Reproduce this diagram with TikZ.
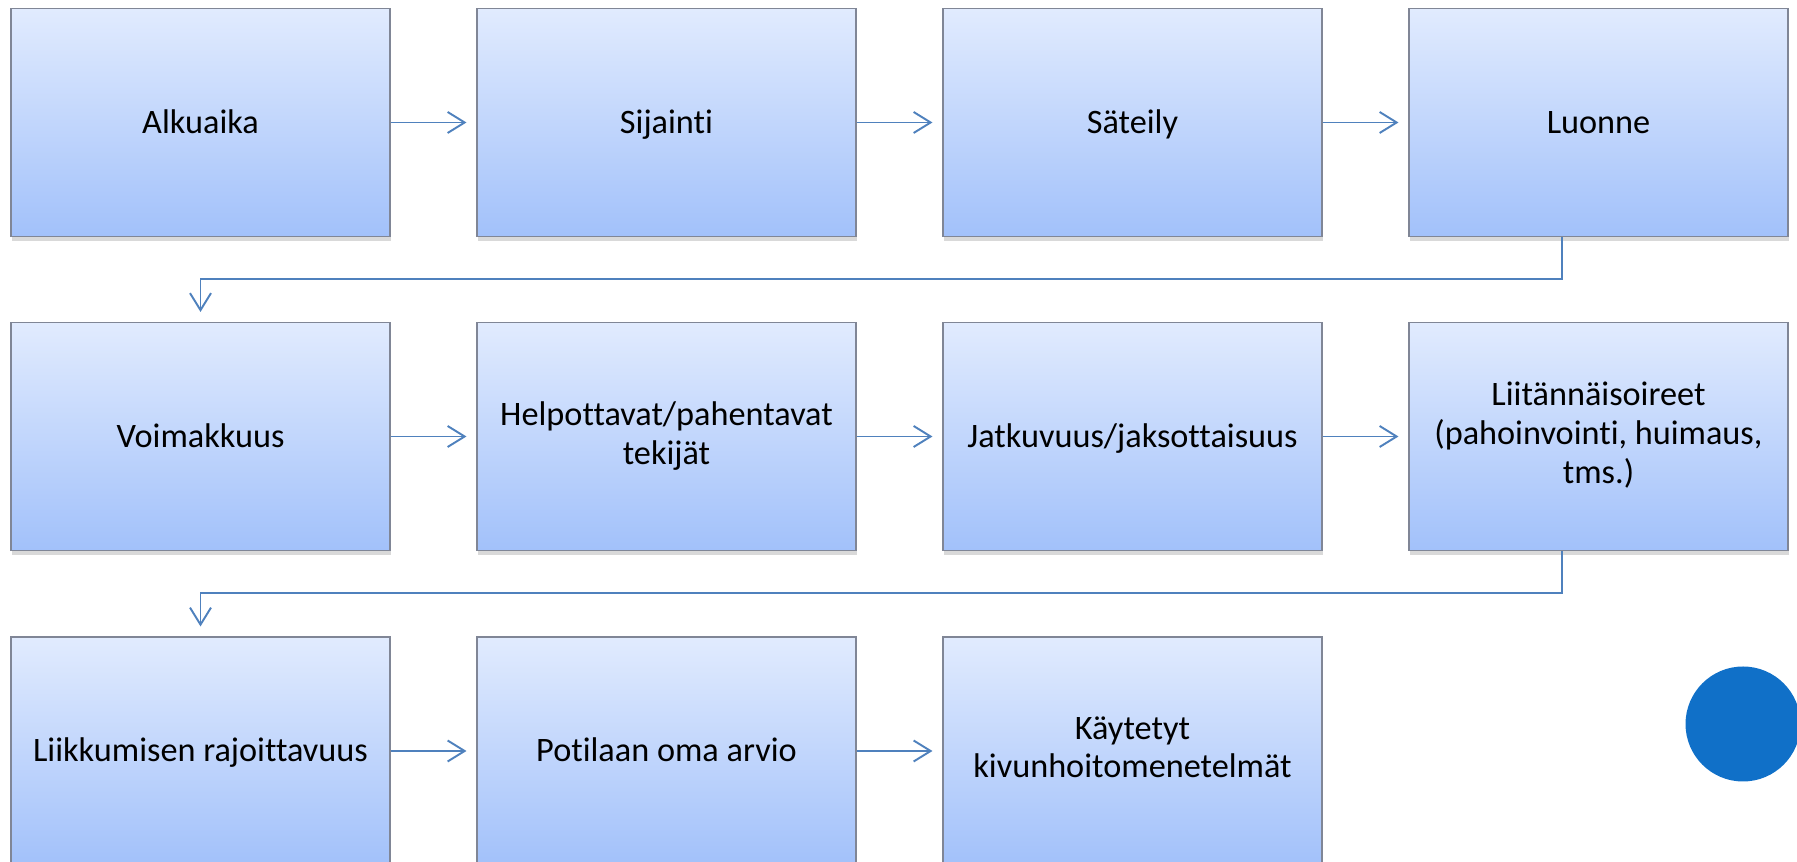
\documentclass[tikz,border=0pt]{standalone}
\usepackage{fontspec}
\setmainfont{Carlito}[Ligatures=NoCommon]
\usetikzlibrary{arrows.meta,shadows}

\definecolor{boxtop}{RGB}{225,235,254}
\definecolor{boxbottom}{RGB}{162,193,250}
\definecolor{boxline}{RGB}{128,134,150}
\definecolor{linkblue}{RGB}{79,129,189}
\definecolor{dotblue}{RGB}{16,112,200}

\def\bluedot{(34.86cm,2.76cm) circle (1.15cm)}
\def\boxstrut{\rule[-4.3pt]{0pt}{20.7pt}}

\tikzset{
	stepbox/.style={rectangle, draw=boxline, line width=0.6pt,
		top color=boxtop, bottom color=boxbottom,
		minimum width=7.58cm, minimum height=4.56cm, inner sep=2pt,
		execute at begin node=\boxstrut, execute at end node=\boxstrut,
		align=center, font=\fontsize{19.5}{22.1}\selectfont,
		drop shadow={shadow xshift=0.6pt, shadow yshift=-2.5pt, opacity=0.3}},
	link/.style={draw=linkblue, line width=1.1pt,
		-{Straight Barb[length=0.34cm,width=0.42cm,line width=1.1pt]},
		shorten >=0.2cm}
}

\begin{document}
\begin{tikzpicture}
	
	\useasboundingbox (0,0) rectangle (35.94,17.24);
	\clip (0,0) rectangle (35.94,17.24);
	
	\node[stepbox] (alkuaika) at (4.01cm, 14.79cm) {Alkuaika};
	\node[stepbox] (sijainti) at (13.33cm, 14.79cm) {Sijainti};
	\node[stepbox] (sateily) at (22.65cm, 14.79cm) {Säteily};
	\node[stepbox] (luonne) at (31.97cm, 14.79cm) {Luonne};
	
	\node[stepbox] (voimakkuus) at (4.01cm, 8.51cm) {Voimakkuus};
	\node[stepbox] (helpottavat) at (13.33cm, 8.51cm) {Helpottavat/pahentavat\\tekijät};
	\node[stepbox] (jatkuvuus) at (22.65cm, 8.51cm) {Jatkuvuus/jaksottaisuus};
	\node[stepbox] (liitannais) at (31.97cm, 8.51cm) {Liitännäisoireet\\(pahoinvointi, huimaus,\\tms.)};
	
	\node[stepbox] (liikkuminen) at (4.01cm, 2.22cm) {Liikkumisen rajoittavuus};
	\node[stepbox] (arvio) at (13.33cm, 2.22cm) {Potilaan oma arvio};
	\node[stepbox] (kaytetyt) at (22.65cm, 2.22cm) {Käytetyt\\kivunhoitomenetelmät};
	
	\draw[link] (alkuaika) -- (sijainti);
	\draw[link] (sijainti) -- (sateily);
	\draw[link] (sateily) -- (luonne);
	\draw[link] ([xshift=-0.73cm]luonne.south) -- ++(0,-0.84) -| (voimakkuus.north);
	\draw[link] (voimakkuus) -- (helpottavat);
	\draw[link] (helpottavat) -- (jatkuvuus);
	\draw[link] (jatkuvuus) -- (liitannais);
	\draw[link] ([xshift=-0.73cm]liitannais.south) -- ++(0,-0.84) -| (liikkuminen.north);
	\draw[link] (liikkuminen) -- (arvio);
	\draw[link] (arvio) -- (kaytetyt);
	
	\fill[dotblue] \bluedot;
	
\end{tikzpicture}
\end{document}
